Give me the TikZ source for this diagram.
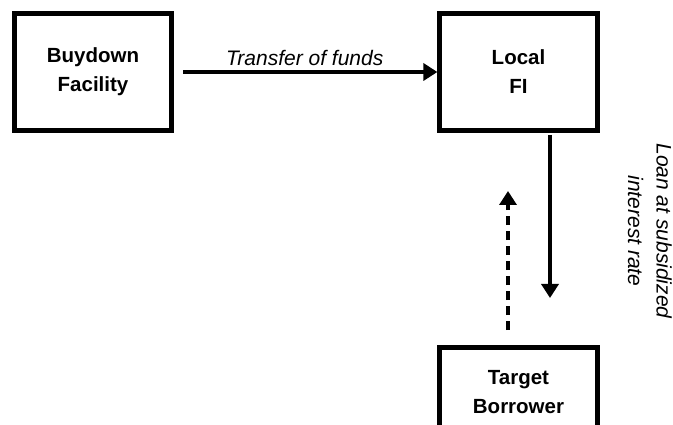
\documentclass[tikz,border=0pt]{standalone}
\usepackage{fontspec}
\setmainfont{Liberation Sans}
\usetikzlibrary{arrows.meta}
\begin{document}
\begin{tikzpicture}[x=1pt,y=-1pt,
  box/.style={draw=black, line width=4.7pt, fill=white, minimum width=157.5pt, minimum height=117pt,
    align=center, font=\fontsize{20.5}{29}\selectfont\bfseries, inner sep=0pt},
  flow/.style={line width=3.4pt, -{Triangle[length=14pt,width=17pt]}},
  lbl/.style={font=\fontsize{21}{28.5}\selectfont\itshape, align=center, inner sep=0pt}]
\useasboundingbox (0,0) rectangle (673,425);
\clip (0,0) rectangle (673,425);
\node[box] (bf) at (93,72) {Buydown\\Facility};
\node[box] (fi) at (518.5,72) {Local\\FI};
\node[box, minimum height=89pt] (tb) at (518.5,392) {Target\\Borrower};
\draw[flow, shorten <=9pt] (bf.east) -- (fi.west)
  node[lbl, midway, above=5pt, xshift=-1pt] (tf) {Transfer of funds};
\coordinate (loanEnd) at (550,298);
\draw[flow, shorten <=2pt] (fi.south -| loanEnd) -- (loanEnd);
\coordinate (repayEnd) at (508,191);
\draw[flow, dash pattern=on 9pt off 6pt, shorten <=15pt] (tb.north -| repayEnd) -- (repayEnd);
\node[lbl, rotate=-90] (loan) at (650,231) {Loan at subsidized\\interest rate};
\end{tikzpicture}
\end{document}
